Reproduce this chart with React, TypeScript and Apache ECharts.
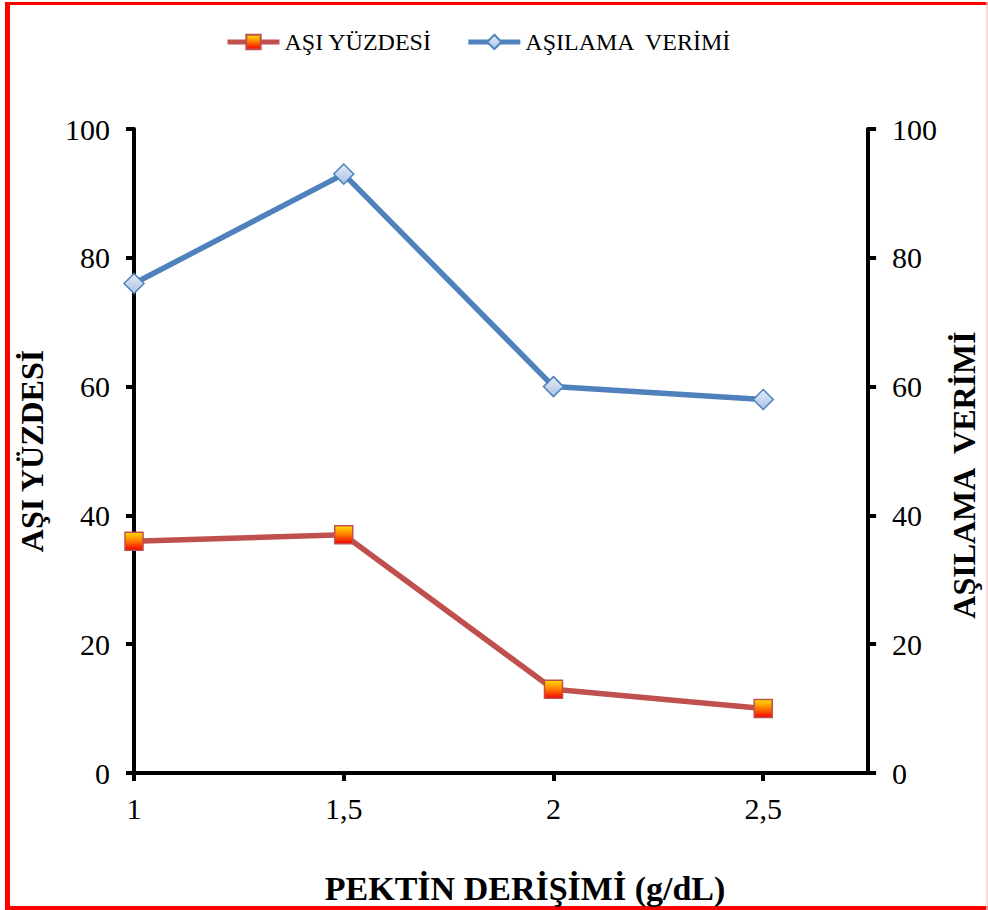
import React, { useEffect, useRef } from "react";
import * as echarts from "echarts";

// Pectin concentration (g/dL) on the x axis
const pectinLevels = [1, 1.5, 2, 2.5];
// Grafting percentage (left axis)
const asiYuzdesi = [36, 37, 13, 10];
// Grafting efficiency (right axis)
const asilamaVerimi = [76, 93, 60, 58];
// Tick positions shown on the x axis
const xTicks = [1, 1.5, 2, 2.5];

const FONT = "Liberation Serif";
const RED = "#C0504D";
const BLUE = "#4F81BD";

export default function App() {
  const ref = useRef<HTMLDivElement>(null);

  useEffect(() => {
    if (!ref.current) return;
    const chart = echarts.init(ref.current, undefined, { renderer: "svg" });

    const redPoints = pectinLevels.map((x, i) => [x, asiYuzdesi[i]]);
    const bluePoints = pectinLevels.map((x, i) => [x, asilamaVerimi[i]]);

    const yAxisCommon = {
      type: "value" as const,
      min: 0,
      max: 100,
      interval: 20,
      splitLine: { show: false },
      axisLine: { show: true, lineStyle: { color: "#000", width: 4 } },
      axisTick: { show: true, length: 8, lineStyle: { color: "#000", width: 4 } },
      axisLabel: { color: "#000", fontFamily: FONT, fontSize: 30, margin: 24 },
      nameLocation: "middle" as const,
      nameRotate: 90,
    };

    const nameStyle = { color: "#000", fontFamily: FONT, fontSize: 32, fontWeight: "bold" as const };

    chart.setOption({
      animation: false,
      backgroundColor: "#fff",
      textStyle: { fontFamily: FONT },
      grid: { left: 134, right: 119, top: 129, bottom: 137, containLabel: false },
      legend: {
        left: 220,
        top: 25,
        itemWidth: 52,
        itemHeight: 18,
        itemGap: 34,
        lineStyle: { width: 5 },
        textStyle: { color: "#000", fontFamily: FONT, fontSize: 24 },
        data: ["AŞI YÜZDESİ", "AŞILAMA  VERİMİ"],
      },
      xAxis: {
        type: "value",
        min: 1,
        max: 2.75,
        name: "PEKTİN DERİŞİMİ (g/dL)",
        nameLocation: "middle",
        nameGap: 98,
        nameTextStyle: { ...nameStyle, fontSize: 34, padding: [0, 0, 0, 48] },
        splitLine: { show: false },
        axisLine: { show: true, onZero: false, lineStyle: { color: "#000", width: 4 } },
        axisTick: {
          show: true,
          length: 8,
          customValues: xTicks,
          lineStyle: { color: "#000", width: 4 },
        },
        axisLabel: {
          color: "#000",
          fontFamily: FONT,
          fontSize: 30,
          margin: 20,
          customValues: xTicks,
          formatter: (v: number) => String(v).replace(".", ","),
        },
      },
      yAxis: [
        {
          ...yAxisCommon,
          position: "left",
          name: "AŞI YÜZDESİ",
          nameGap: 86,
          nameTextStyle: nameStyle,
        },
        {
          ...yAxisCommon,
          position: "right",
          name: "AŞILAMA  VERİMİ",
          nameGap: 78,
          nameTextStyle: { ...nameStyle, padding: [0, 48, 0, 0] },
        },
      ],
      series: [
        {
          name: "AŞI YÜZDESİ",
          type: "line",
          yAxisIndex: 0,
          data: redPoints,
          symbol: "rect",
          symbolSize: 18,
          lineStyle: { color: RED, width: 5.5 },
          itemStyle: {
            color: new echarts.graphic.LinearGradient(0, 0, 0, 1, [
              { offset: 0, color: "#FFE000" },
              { offset: 0.5, color: "#FF7A00" },
              { offset: 1, color: "#F00000" },
            ]),
            borderColor: RED,
            borderWidth: 1.5,
          },
          z: 3,
        },
        {
          name: "AŞILAMA  VERİMİ",
          type: "line",
          yAxisIndex: 1,
          data: bluePoints,
          symbol: "diamond",
          symbolSize: 20,
          lineStyle: { color: BLUE, width: 5.5 },
          itemStyle: {
            color: new echarts.graphic.LinearGradient(0, 0, 0, 1, [
              { offset: 0, color: "#E4ECF7" },
              { offset: 1, color: "#A9C2E4" },
            ]),
            borderColor: BLUE,
            borderWidth: 1.5,
          },
          z: 3,
        },
      ],
      graphic: [
        // red frame around the figure
        { type: "line", shape: { x1: 7.5, y1: 2, x2: 7.5, y2: 909 }, style: { stroke: "#FF0000", lineWidth: 5 }, silent: true },
        { type: "line", shape: { x1: 5, y1: 3.5, x2: 988, y2: 3.5 }, style: { stroke: "#FF0000", lineWidth: 3 }, silent: true },
        { type: "line", shape: { x1: 5, y1: 908, x2: 988, y2: 908 }, style: { stroke: "#FF0000", lineWidth: 4 }, silent: true },
        { type: "line", shape: { x1: 987, y1: 2, x2: 987, y2: 910 }, style: { stroke: "#FFC8C8", lineWidth: 1.5 }, silent: true },
      ],
    });

    return () => chart.dispose();
  }, []);

  return (
    <div
      ref={ref}
      style={{ position: "absolute", left: 0, top: 0, width: 988, height: 910 }}
    />
  );
}
